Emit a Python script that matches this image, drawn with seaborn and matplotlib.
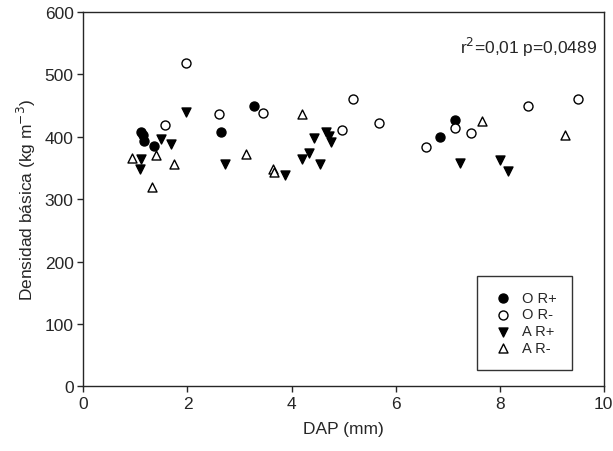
import numpy as np
import pandas as pd
import seaborn as sns
from matplotlib import pyplot as plt

# DAP (mm) y densidad basica (kg m-3) por grupo
or_pos_dap = [1.11, 1.14, 1.17, 1.36, 2.64, 3.27, 6.85, 7.15]
or_pos_den = [408, 403, 393, 385, 408, 449, 399, 427]

or_neg_dap = [1.56, 1.97, 2.60, 3.45, 4.97, 5.18, 5.68, 6.58, 7.15, 7.45, 8.54, 9.50]
or_neg_den = [419, 518, 436, 439, 411, 461, 422, 384, 414, 406, 450, 460]

ar_pos_dap = [1.09, 1.10, 1.49, 1.69, 1.97, 2.73, 3.87, 4.21, 4.34, 4.43, 4.54, 4.66, 4.72, 4.75, 7.24, 8.01, 8.16]
ar_pos_den = [348, 364, 396, 388, 440, 356, 339, 365, 374, 398, 356, 407, 401, 391, 358, 363, 345]

ar_neg_dap = [0.93, 1.31, 1.40, 1.74, 3.12, 3.64, 3.67, 4.21, 7.65, 9.26]
ar_neg_den = [366, 320, 371, 356, 372, 349, 344, 436, 426, 403]

grupos = ['O R+', 'O R-', 'A R+', 'A R-']
marcadores = {'O R+': 'o', 'O R-': 'o', 'A R+': 'v', 'A R-': '^'}
rellenos = {'O R+': 'black', 'O R-': 'white', 'A R+': 'black', 'A R-': 'white'}

df = pd.concat([
    pd.DataFrame({'DAP': or_pos_dap, 'dens': or_pos_den, 'grupo': 'O R+'}),
    pd.DataFrame({'DAP': or_neg_dap, 'dens': or_neg_den, 'grupo': 'O R-'}),
    pd.DataFrame({'DAP': ar_pos_dap, 'dens': ar_pos_den, 'grupo': 'A R+'}),
    pd.DataFrame({'DAP': ar_neg_dap, 'dens': ar_neg_den, 'grupo': 'A R-'}),
])

sns.set_style('ticks')
plt.rcParams['font.family'] = ['Liberation Sans', 'DejaVu Sans']

fig = plt.figure(figsize=(6.13, 4.52), dpi=100)
ax = fig.add_axes([0.136, 0.143, 0.849, 0.828])

for g in grupos:
    sub = df[df['grupo'] == g]
    sns.scatterplot(data=sub, x='DAP', y='dens', ax=ax, marker=marcadores[g],
                    facecolor=rellenos[g], edgecolor='black', linewidth=1.0,
                    s=42, label=g, zorder=3)

ax.set_xlim(0, 10)
ax.set_ylim(0, 600)
ax.set_xticks(np.arange(0, 11, 2))
ax.set_yticks(np.arange(0, 601, 100))
ax.set_xlabel('DAP (mm)', fontsize=12.5, labelpad=7)
ax.set_ylabel('Densidad básica (kg m$^{-3}$)', fontsize=12.5, labelpad=5)
ax.tick_params(labelsize=12.5, direction='out', length=4, width=1, pad=3)
for sp in ax.spines.values():
    sp.set_linewidth(1.0)
    sp.set_visible(True)

ax.text(0.987, 0.909, 'r$^{2}$=0,01 p=0,0489', transform=ax.transAxes,
        ha='right', va='center', fontsize=12.5)

leg = ax.legend(loc='lower right', bbox_to_anchor=(0.938, 0.044), borderaxespad=0,
                frameon=True, fancybox=False, fontsize=10.5, handletextpad=0.5,
                labelspacing=0.2, borderpad=1.0, handlelength=1.6)
leg.get_frame().set_edgecolor('black')
leg.get_frame().set_linewidth(1.0)

plt.savefig('out.png', dpi=100)
plt.close()
